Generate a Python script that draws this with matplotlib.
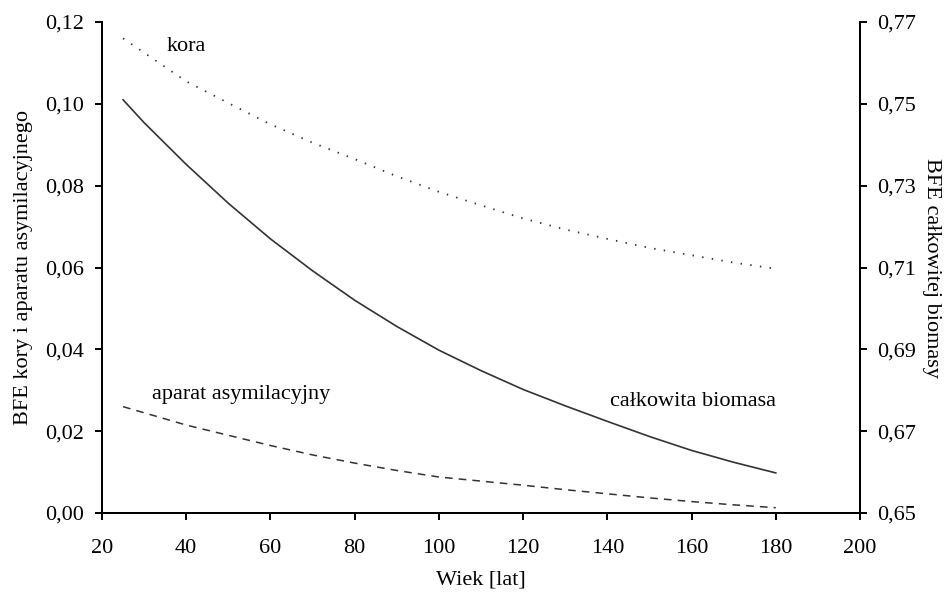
import matplotlib
matplotlib.use("Agg")
import matplotlib.pyplot as plt
from matplotlib.ticker import FuncFormatter, FixedLocator

plt.rcParams["font.family"] = ["Liberation Serif", "DejaVu Serif"]

# wiek drzewostanu [lat]
age = [25, 30, 40, 50, 60, 70, 80, 90, 100, 110, 120, 130, 140, 150, 160, 170, 180]
# BFE kory (lewa oś)
bark = [0.116, 0.1125, 0.1055, 0.1002, 0.095, 0.0905, 0.0865, 0.0823, 0.0785,
        0.0752, 0.072, 0.0693, 0.067, 0.0648, 0.063, 0.0612, 0.0597]
# BFE aparatu asymilacyjnego (lewa oś)
foliage = [0.026, 0.0245, 0.0215, 0.019, 0.0165, 0.0142, 0.0122, 0.0104, 0.0088,
           0.0078, 0.0068, 0.0057, 0.0047, 0.0037, 0.0028, 0.002, 0.0013]
# BFE całkowitej biomasy (prawa oś)
total = [0.751, 0.7454, 0.7352, 0.7257, 0.717, 0.7092, 0.702, 0.6956, 0.6898,
         0.6848, 0.6802, 0.6762, 0.6724, 0.6687, 0.6653, 0.6624, 0.6598]

x_ticks = [20, 40, 60, 80, 100, 120, 140, 160, 180, 200]
left_ticks = [0.00, 0.02, 0.04, 0.06, 0.08, 0.10, 0.12]
right_ticks = [0.65, 0.67, 0.69, 0.71, 0.73, 0.75, 0.77]

comma = FuncFormatter(lambda v, p: f"{v:.2f}".replace(".", ","))
line_col = "#333333"
fs = 16

fig = plt.figure(figsize=(9.48, 5.92), dpi=100)
ax = fig.add_axes([0.1076, 0.1334, 0.7996, 0.8294])
ax2 = ax.twinx()

ax.plot(age, bark, color=line_col, lw=1.3, linestyle=(0, (0.8, 4.6)))
ax.plot(age, foliage, color=line_col, lw=1.1, linestyle=(0, (5, 4)))
ax2.plot(age, total, color=line_col, lw=1.2)

ax.set_xlim(20, 200)
ax.set_ylim(0, 0.12)
ax2.set_ylim(0.65, 0.77)
ax.set_xticks(x_ticks)
ax.yaxis.set_major_locator(FixedLocator(left_ticks))
ax2.yaxis.set_major_locator(FixedLocator(right_ticks))
ax.yaxis.set_major_formatter(comma)
ax2.yaxis.set_major_formatter(comma)

for a in (ax, ax2):
    a.spines["top"].set_visible(False)
    for s in ("left", "right", "bottom"):
        a.spines[s].set_linewidth(1.4)
    a.tick_params(direction="out", length=5, width=1.4, labelsize=fs)
ax.tick_params(axis="y", pad=8)
ax.tick_params(axis="x", pad=14)
ax2.tick_params(axis="y", pad=7)

ax.set_xlabel("Wiek [lat]", fontsize=fs, labelpad=9)
ax.set_ylabel("BFE kory i aparatu asymilacyjnego", fontsize=fs, labelpad=9)
ax2.set_ylabel("BFE całkowitej biomasy", fontsize=fs, rotation=270, labelpad=18)

ax.text(35.4, 0.1139, "kora", fontsize=fs, va="center", ha="left")
ax.text(31.8, 0.0289, "aparat asymilacyjny", fontsize=fs, va="center", ha="left")
ax.text(140.6, 0.0272, "całkowita biomasa", fontsize=fs, va="center", ha="left")

fig.savefig("out.png", dpi=100)
